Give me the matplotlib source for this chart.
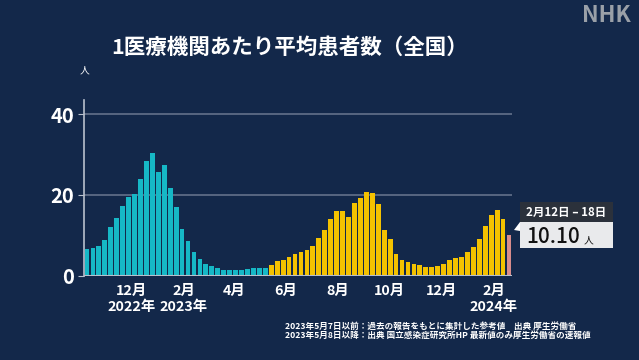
import datetime as dt
import matplotlib
matplotlib.use("Agg")
import matplotlib.pyplot as plt
from matplotlib.patches import Rectangle, Polygon

plt.rcParams['font.family'] = ['Noto Sans CJK JP', 'DejaVu Sans']

# ---- data (weekly average patients per medical institution) ----
ref_values = [6.6, 6.9, 7.4, 8.8, 12.0, 14.4, 17.2, 19.5, 20.3, 23.9, 28.4, 30.5,
              25.7, 27.4, 21.6, 17.0, 11.6, 8.6, 5.9, 4.2, 2.9, 2.3, 1.8, 1.5,
              1.4, 1.3, 1.4, 1.6, 1.9, 1.9, 1.9]
new_values = [2.7, 3.7, 3.9, 4.6, 5.3, 5.8, 6.4, 7.3, 9.3, 11.3, 14.0, 16.1,
              16.1, 14.5, 18.0, 19.2, 20.7, 20.4, 17.7, 11.2, 9.0, 5.4, 3.9, 3.4,
              3.0, 2.6, 2.2, 2.2, 2.4, 2.9, 3.8, 4.3, 4.6, 5.9, 7.1, 9.2,
              12.4, 15.1, 16.3, 14.0]
latest_value = 10.10
latest_label = "2月12日 – 18日"

month_dates = [dt.date(2022, 12, 1), dt.date(2023, 2, 1), dt.date(2023, 4, 1),
               dt.date(2023, 6, 1), dt.date(2023, 8, 1), dt.date(2023, 10, 1),
               dt.date(2023, 12, 1), dt.date(2024, 2, 1)]
month_labels = ["12月\n2022年", "2月\n2023年", "4月", "6月", "8月", "10月", "12月", "2月\n2024年"]
axis_origin = dt.date(2022, 10, 10)

yticks = [0, 20, 40]

title = "1医療機関あたり平均患者数（全国）"
note1 = "2023年5月7日以前：過去の報告をもとに集計した参考値　出典 厚生労働省"
note2 = "2023年5月8日以降：出典 国立感染症研究所HP 最新値のみ厚生労働省の速報値"

BG = "#13284a"
TEAL = "#16b8c6"
YELLOW = "#f4c200"
PINK = "#d88c8c"
GRID = "#5d6b85"
AXC = "#b8c0cc"

W, H = 639, 360
fig = plt.figure(figsize=(W / 100, H / 100), dpi=100, facecolor=BG)
ax = fig.add_axes([84 / W, (H - 275.7) / H, 428 / W, 175.7 / H])
ax.set_facecolor(BG)

values = ref_values + new_values + [latest_value]
colors = [TEAL] * len(ref_values) + [YELLOW] * len(new_values) + [PINK]
x = list(range(len(values)))
ax.bar(x, values, width=0.8, color=colors, zorder=3)

ax.set_xlim(-0.5, len(values) - 0.5)
ax.set_ylim(0, 43.5)

for yv in yticks[1:]:
    ax.axhline(yv, color=GRID, lw=1.3, zorder=1)
ax.axhline(0, color=AXC, lw=1.5, zorder=4)

for s in ["top", "right", "bottom"]:
    ax.spines[s].set_visible(False)
ax.spines["left"].set_color(AXC)
ax.spines["left"].set_linewidth(1.2)

ax.set_yticks(yticks)
ax.set_yticklabels([str(v) for v in yticks], fontsize=14.5, fontweight="bold", color="white")
ax.tick_params(axis="y", length=4, color=AXC, pad=3)

mpos = [(d - axis_origin).days / 7 for d in month_dates]
ax.set_xticks(mpos)
ax.set_xticklabels(month_labels, fontsize=10.3, fontweight="bold", color="white",
                   linespacing=1.2, va="top")
ax.tick_params(axis="x", length=0, pad=6)

# unit label
fig.text(84 / W, 1 - 70 / H, "人", fontsize=7, color="white", ha="center", va="center")

# title
fig.text(290 / W, 1 - 47 / H, title, fontsize=15.5, fontweight="bold", color="white",
         ha="center", va="center")

# logo
fig.text(631 / W, 1 - 15 / H, "NHK", fontsize=16, fontweight="bold", style="italic",
         color="#9aa0a8", ha="right", va="center")

# tooltip box
fig.patches.append(Rectangle((520 / W, 1 - 222 / H), 93 / W, 20 / H, transform=fig.transFigure,
                             facecolor="#2b313b", edgecolor="none"))
fig.patches.append(Rectangle((520 / W, 1 - 248 / H), 93 / W, 26 / H, transform=fig.transFigure,
                             facecolor="#e9eaec", edgecolor="none"))
fig.patches.append(Polygon([(514 / W, 1 - 230 / H), (520 / W, 1 - 222 / H), (520 / W, 1 - 231 / H)],
                           closed=True, transform=fig.transFigure, facecolor="white",
                           edgecolor="none"))
fig.text(566 / W, 1 - 212 / H, latest_label, fontsize=8.3, fontweight="bold", color="white",
         ha="center", va="center")
fig.text(526 / W, 1 - 237 / H, f"{latest_value:.2f}", fontsize=15, fontweight="medium",
         color="#111111", ha="left", va="center")
fig.text(584 / W, 1 - 240 / H, "人", fontsize=7, color="#111111", ha="left", va="center")

# notes
fig.text(285 / W, 1 - 326 / H, note1, fontsize=6.2, fontweight="bold", color="white",
         ha="left", va="center")
fig.text(285 / W, 1 - 335.5 / H, note2, fontsize=6.2, fontweight="bold", color="white",
         ha="left", va="center")

fig.savefig("out.png", dpi=100, facecolor=BG)
